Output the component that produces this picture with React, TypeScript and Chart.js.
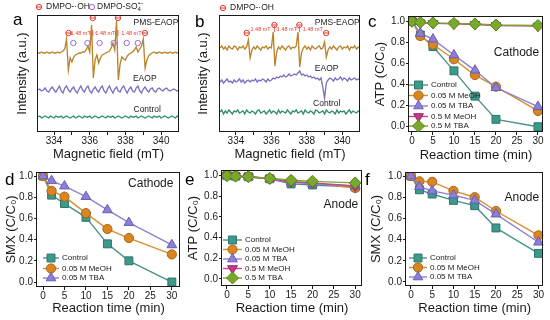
import React, { useEffect, useRef } from 'react';
import { Chart, registerables } from 'chart.js';
import { drawPoint } from 'chart.js/helpers';

Chart.register(...registerables);

const FONT = '"Liberation Sans", Arial, Helvetica, sans-serif';
const INK = '#1a1a1a';
const RED = '#e5392f';
const PURPLE = '#9b6fd6';

// ---------------- EPR spectra (a, b) ----------------
const fieldStart = 333.1;
const fieldStep = 0.1;
const fieldRange = [333.1, 341.0];
const fieldTicks = [334, 335, 336, 337, 338, 339, 340];

const aPms = [
  79, 79, 80, 79, 79, 80, 79, 79, 80, 79,
  79, 80, 79, 80, 81, 83, 93, 62, 74, 70,
  75, 77, 78, 79, 79, 80, 80, 82, 86, 80,
  107, 54, 72, 77, 69, 74, 77, 78, 79, 80,
  81, 84, 89, 82, 111, 52, 68, 75, 73, 72,
  76, 78, 79, 80, 82, 85, 80, 83, 86, 93,
  64, 72, 76, 78, 79, 80, 79, 79, 80, 79,
  79, 80, 79, 79, 80, 79, 79, 80, 79, 79,
];
const aEaop = [
  42, 43, 41, 42, 44, 41, 40, 43, 45, 42,
  40, 43, 46, 41, 39, 44, 46, 42, 40, 43,
  45, 41, 39, 43, 46, 42, 40, 44, 46, 41,
  39, 43, 45, 42, 40, 44, 46, 41, 39, 43,
  46, 42, 39, 43, 45, 41, 40, 44, 46, 42,
  39, 43, 45, 41, 40, 44, 46, 41, 39, 43,
  45, 42, 40, 43, 44, 41, 40, 43, 44, 42,
  41, 43, 44, 42, 41, 42, 43, 42, 41, 42,
];
const aCtrl = [
  15, 16, 14, 15, 16, 15, 14, 16, 15, 14,
  16, 15, 15, 16, 14, 15, 16, 15, 14, 15,
  16, 14, 15, 16, 15, 14, 16, 15, 15, 16,
  14, 15, 16, 15, 14, 15, 16, 15, 14, 16,
  15, 15, 16, 14, 15, 16, 15, 14, 15, 16,
  15, 14, 16, 15, 15, 16, 14, 15, 16, 15,
  14, 15, 16, 15, 14, 16, 15, 15, 16, 14,
  15, 16, 15, 14, 15, 16, 15, 14, 16, 15,
];
const bPms = [
  84, 86, 83, 85, 82, 86, 84, 83, 86, 85,
  82, 85, 84, 86, 83, 85, 92, 74, 82, 85,
  83, 86, 84, 82, 85, 84, 86, 83, 85, 84,
  100, 66, 80, 85, 83, 86, 84, 82, 85, 86,
  83, 85, 84, 86, 100, 65, 79, 84, 86, 83,
  85, 82, 86, 84, 83, 85, 86, 83, 84, 90,
  75, 82, 85, 83, 86, 84, 82, 85, 86, 83,
  85, 84, 86, 82, 85, 84, 86, 83, 85, 84,
];
const bEaop = [
  50, 52, 49, 51, 53, 50, 51, 49, 52, 50,
  51, 53, 50, 52, 49, 51, 52, 50, 52, 51,
  53, 50, 52, 51, 53, 52, 50, 53, 51, 52,
  54, 53, 55, 54, 56, 55, 57, 55, 56, 58,
  56, 57, 58, 57, 59, 61, 57, 58, 56, 57,
  55, 56, 54, 55, 53, 54, 52, 54, 45, 34,
  49, 52, 54, 53, 51, 54, 52, 53, 55, 52,
  54, 53, 51, 54, 52, 53, 54, 52, 53, 52,
];
const bCtrl = [
  20, 22, 18, 21, 19, 22, 20, 18, 21, 20,
  22, 19, 20, 21, 18, 22, 20, 19, 21, 20,
  18, 21, 22, 19, 20, 21, 18, 20, 22, 19,
  21, 20, 18, 22, 19, 21, 20, 19, 22, 20,
  18, 21, 20, 22, 19, 20, 21, 18, 22, 20,
  19, 21, 20, 18, 22, 21, 19, 20, 21, 18,
  22, 20, 19, 21, 20, 18, 22, 19, 21, 20,
  21, 18, 20, 22, 19, 21, 20, 19, 21, 20,
];
const aOhPeaks = [334.81, 336.17, 337.58, 339.09];
const aOhHeights = [99, 114, 114, 99];
const aSo4Peaks = [335.08, 335.87, 336.55, 337.34, 338.07, 338.69];
const aSo4Heights = [89, 89, 89, 89, 89, 89];
const bOhPeaks = [334.61, 336.17, 337.58, 339.09];
const bOhHeights = [99, 107, 107, 99];
const splittingText = '1.48 mT';
const traceNames = ['PMS-EAOP', 'EAOP', 'Control'];

// ---------------- Kinetics (c–f) ----------------
const timeMin = [0, 2, 5, 10, 15, 20, 30];
const timeTicks = [0, 5, 10, 15, 20, 25, 30];
const ratioTicks = [0, 0.2, 0.4, 0.6, 0.8, 1.0];
const seriesLabels = ['Control', '0.05 M MeOH', '0.05 M TBA', '0.5 M MeOH', '0.5 M TBA'];

const atpCathodeControl = [1.0, 0.87, 0.76, 0.53, 0.29, 0.07, 0.0];
const atpCathodeMeOH005 = [1.0, 0.86, 0.78, 0.64, 0.49, 0.38, 0.15];
const atpCathodeTBA005 = [1.0, 0.885, 0.83, 0.68, 0.535, 0.37, 0.19];
const atpCathodeMeOH05 = [1.0, 0.985, 0.98, 0.975, 0.97, 0.96, 0.955];
const atpCathodeTBA05 = [1.0, 0.99, 0.985, 0.98, 0.975, 0.965, 0.96];

const smxCathodeControl = [1.0, 0.82, 0.74, 0.61, 0.36, 0.2, 0.0];
const smxCathodeMeOH005 = [1.0, 0.86, 0.805, 0.65, 0.5, 0.415, 0.26];
const smxCathodeTBA005 = [1.0, 0.955, 0.905, 0.805, 0.68, 0.56, 0.35];

const atpAnodeControl = [1.0, 0.995, 0.99, 0.97, 0.92, 0.91, 0.89];
const atpAnodeMeOH005 = [1.0, 0.995, 0.99, 0.97, 0.945, 0.93, 0.88];
const atpAnodeTBA005 = [1.0, 0.995, 0.99, 0.97, 0.935, 0.92, 0.9];
const atpAnodeMeOH05 = [1.0, 0.995, 0.99, 0.97, 0.94, 0.93, 0.9];
const atpAnodeTBA05 = [1.0, 0.995, 0.99, 0.975, 0.955, 0.945, 0.93];

const smxAnodeControl = [1.0, 0.87, 0.83, 0.77, 0.72, 0.51, 0.27];
const smxAnodeMeOH005 = [1.0, 0.95, 0.945, 0.86, 0.8, 0.67, 0.44];
const smxAnodeTBA005 = [1.0, 0.9, 0.86, 0.82, 0.77, 0.64, 0.375];

const seriesStyles = [
  { line: '#4a928a', fill: '#3b9a8b', edge: '#2d7468', pointStyle: 'rect', radius: 5.6, rotation: 0 },
  { line: '#d98e2e', fill: '#d98520', edge: '#a8651a', pointStyle: 'circle', radius: 4.6, rotation: 0 },
  { line: '#8c80d0', fill: '#8b7fd6', edge: '#6a5db5', pointStyle: 'triangle', radius: 5.6, rotation: 0 },
  { line: '#c4468c', fill: '#c8388a', edge: '#962866', pointStyle: 'triangle', radius: 5.6, rotation: 180 },
  { line: '#7ca52c', fill: '#7aa82a', edge: '#5b8220', pointStyle: 'rectRot', radius: 6, rotation: 0 },
];
const traceColors = ['#b8852a', '#7b6fc0', '#2f8c70'];

// ---------------- helpers ----------------
type Box = { l: number; t: number; r: number; b: number };
const TITLE_SIZE = 13;
const TITLE_LH = TITLE_SIZE * 1.2;
const TICK_SIZE = 10;

function frame(box: Box, yTitleX: number, xTitleY: number) {
  const left = yTitleX - TITLE_LH / 2;
  const bottom = xTitleY + TITLE_LH / 2;
  return {
    padding: { left, top: box.t, right: 550 - box.r, bottom: 320 - bottom },
    yW: box.l - left,
    xH: bottom - box.b,
  };
}

function drawText(ctx: CanvasRenderingContext2D, s: string, x: number, y: number, size: number,
  color = INK, align: CanvasTextAlign = 'left', baseline: CanvasTextBaseline = 'middle') {
  ctx.font = `${size}px ${FONT}`;
  ctx.fillStyle = color;
  ctx.textAlign = align;
  ctx.textBaseline = baseline;
  ctx.fillText(s, x, y);
}

function strokeFrame(chart: any) {
  const { ctx, chartArea: a } = chart;
  ctx.save();
  ctx.strokeStyle = INK;
  ctx.lineWidth = 1;
  const l = Math.round(a.left) - 0.5;
  const t = Math.round(a.top) + 0.5;
  const r = Math.round(a.right) - 0.5;
  const b = Math.round(a.bottom) - 0.5;
  ctx.strokeRect(l, t, r - l, b - t);
  ctx.restore();
}

function axisCommon(title: string) {
  return {
    border: { display: false },
    grid: { drawOnChartArea: false, drawTicks: true, tickLength: 3, color: INK },
    title: { display: true, text: title, color: INK, padding: 0, font: { family: FONT, size: TITLE_SIZE } },
  };
}

// ---------------- EPR panel config ----------------
function eprConfig(o: {
  box: Box; yTitleX: number; xTitleY: number;
  traces: number[][]; ohPeaks: number[]; ohHeights: number[];
  so4Peaks?: number[]; so4Heights?: number[];
  splitY: number; labelPos: [number, number][];
  letter: string; letterAt: [number, number]; legendAt: [number, number];
}) {
  const f = frame(o.box, o.yTitleX, o.xTitleY);
  const toXY = (arr: number[]) => arr.map((v, i) => ({ x: fieldStart + i * fieldStep, y: v }));
  const datasets: any[] = [
    {
      label: 'DMPO-·OH', data: o.ohPeaks.map((x, i) => ({ x, y: o.ohHeights[i] })), showLine: false,
      pointStyle: 'circle', pointRadius: 2.7, pointBorderColor: RED, pointBackgroundColor: 'rgba(0,0,0,0)', pointBorderWidth: 1, order: 0,
    },
    {
      label: 'DMPO-·OH bar', data: o.ohPeaks.map((x, i) => ({ x, y: o.ohHeights[i] })), showLine: false,
      pointStyle: 'line', pointRadius: 2.7, pointBorderColor: RED, pointBorderWidth: 1, order: 0,
    },
  ];
  if (o.so4Peaks && o.so4Heights) {
    datasets.push({
      label: 'DMPO-SO4', data: o.so4Peaks.map((x, i) => ({ x, y: o.so4Heights![i] })), showLine: false,
      pointStyle: 'circle', pointRadius: 2.7, pointBorderColor: PURPLE, pointBackgroundColor: 'rgba(0,0,0,0)', pointBorderWidth: 1, order: 0,
    });
  }
  o.traces.forEach((tr, i) => {
    datasets.push({
      label: traceNames[i], data: toXY(tr), borderColor: traceColors[i], borderWidth: 1.35,
      pointRadius: 0, tension: 0, order: 1 + i,
    });
  });

  const overlay = {
    id: 'eprOverlay',
    afterDraw(chart: any) {
      strokeFrame(chart);
      const ctx: CanvasRenderingContext2D = chart.ctx;
      const xs = chart.scales.x, ys = chart.scales.y;
      ctx.save();
      drawText(ctx, o.letter, o.letterAt[0], o.letterAt[1], 17, '#000', 'left', 'alphabetic');
      const [lx, ly] = o.legendAt;
      ctx.strokeStyle = RED; ctx.fillStyle = 'rgba(0,0,0,0)'; ctx.lineWidth = 1;
      drawPoint(ctx, { pointStyle: 'circle', radius: 2.7, borderWidth: 1, rotation: 0 } as any, lx, ly);
      drawPoint(ctx, { pointStyle: 'line', radius: 2.7, borderWidth: 1, rotation: 0 } as any, lx, ly);
      drawText(ctx, 'DMPO-·OH', lx + 7, ly, 8.5);
      if (o.so4Peaks) {
        const px = lx + 53;
        ctx.strokeStyle = PURPLE; ctx.fillStyle = 'rgba(0,0,0,0)';
        drawPoint(ctx, { pointStyle: 'circle', radius: 2.7, borderWidth: 1, rotation: 0 } as any, px, ly);
        drawText(ctx, 'DMPO-SO', px + 5, ly, 8.5);
        ctx.font = `8.5px ${FONT}`;
        const w = ctx.measureText('DMPO-SO').width;
        drawText(ctx, '4', px + 5 + w, ly + 2.5, 6);
        drawText(ctx, '•−', px + 5 + w + 0.5, ly - 3.5, 6);
      }
      o.labelPos.forEach(([x, y], i) => {
        drawText(ctx, traceNames[i], xs.getPixelForValue(x), ys.getPixelForValue(y), 8.5);
      });
      const yy = ys.getPixelForValue(o.splitY);
      ctx.strokeStyle = RED; ctx.lineWidth = 0.8;
      for (let i = 0; i < o.ohPeaks.length - 1; i++) {
        const x0 = xs.getPixelForValue(o.ohPeaks[i]);
        const x1 = xs.getPixelForValue(o.ohPeaks[i + 1]);
        const mid = (x0 + x1) / 2;
        ctx.font = `5.5px ${FONT}`;
        const w = ctx.measureText(splittingText).width;
        drawText(ctx, splittingText, mid, yy, 5.5, RED, 'center');
        ctx.beginPath();
        ctx.moveTo(x0 + 3, yy); ctx.lineTo(mid - w / 2 - 0.5, yy);
        ctx.moveTo(mid + w / 2 + 0.5, yy); ctx.lineTo(x1 - 3, yy);
        ctx.stroke();
      }
      for (let i = 1; i < o.ohPeaks.length - 1; i++) {
        const x = xs.getPixelForValue(o.ohPeaks[i]);
        ctx.beginPath(); ctx.moveTo(x, yy - 3); ctx.lineTo(x, yy + 3); ctx.stroke();
      }
      ctx.restore();
    },
  };

  return {
    type: 'line',
    data: { datasets },
    plugins: [overlay],
    options: {
      animation: false, responsive: false, events: [],
      layout: { padding: f.padding },
      plugins: { legend: { display: false }, tooltip: { enabled: false } },
      scales: {
        x: {
          type: 'linear', min: fieldRange[0], max: fieldRange[1],
          afterBuildTicks: (s: any) => { s.ticks = fieldTicks.map((v) => ({ value: v })); },
          afterFit: (s: any) => { s.height = f.xH; },
          ticks: {
            autoSkip: false, maxRotation: 0, minRotation: 0, padding: 0, color: INK,
            font: { family: FONT, size: TICK_SIZE },
            callback: (v: any) => (Number(v) % 2 === 0 ? String(v) : ''),
          },
          ...axisCommon('Magnetic field (mT)'),
        },
        y: {
          type: 'linear', min: 0, max: o.box.b - o.box.t,
          afterFit: (s: any) => { s.width = f.yW; },
          ticks: { display: false },
          ...axisCommon('Intensity (a.u.)'),
          grid: { drawOnChartArea: false, drawTicks: false },
        },
      },
    },
  };
}

// ---------------- kinetics panel config ----------------
function kineticsConfig(o: {
  box: Box; yTitleX: number; xTitleY: number; xRange: [number, number]; yRange: [number, number];
  yTitle: string; series: number[][]; letter: string; letterAt: [number, number];
  tag: string; tagAt: [number, number]; legendLine: [number, number]; legendTextX: number; legendYs: number[];
}) {
  const f = frame(o.box, o.yTitleX, o.xTitleY);
  const n = o.series.length;
  const datasets = o.series.map((vals, i) => {
    const st = seriesStyles[i];
    return {
      label: seriesLabels[i],
      data: timeMin.map((t, k) => ({ x: t, y: vals[k] })),
      borderColor: st.line, backgroundColor: st.fill, borderWidth: 1.4,
      pointStyle: st.pointStyle, pointRadius: st.radius, pointRotation: st.rotation,
      pointBackgroundColor: st.fill, pointBorderColor: st.edge, pointBorderWidth: 1,
      tension: 0, order: n - i,
    };
  });
  const overlay = {
    id: 'kinOverlay',
    afterDraw(chart: any) {
      strokeFrame(chart);
      const ctx: CanvasRenderingContext2D = chart.ctx;
      const xs = chart.scales.x, ys = chart.scales.y;
      ctx.save();
      drawText(ctx, o.letter, o.letterAt[0], o.letterAt[1], 17, '#000', 'left', 'alphabetic');
      drawText(ctx, o.tag, xs.getPixelForValue(o.tagAt[0]), ys.getPixelForValue(o.tagAt[1]), 12);
      o.legendYs.forEach((y, i) => {
        const st = seriesStyles[i];
        ctx.strokeStyle = st.line; ctx.lineWidth = 1.4;
        ctx.beginPath(); ctx.moveTo(o.legendLine[0], y); ctx.lineTo(o.legendLine[1], y); ctx.stroke();
        ctx.fillStyle = st.fill; ctx.strokeStyle = st.edge; ctx.lineWidth = 1;
        drawPoint(ctx, { pointStyle: st.pointStyle, radius: st.radius, rotation: st.rotation, borderWidth: 1 } as any,
          (o.legendLine[0] + o.legendLine[1]) / 2, y);
        drawText(ctx, seriesLabels[i], o.legendTextX, y, 8);
      });
      ctx.restore();
    },
  };
  return {
    type: 'line',
    data: { datasets },
    plugins: [overlay],
    options: {
      animation: false, responsive: false, events: [],
      layout: { padding: f.padding },
      plugins: { legend: { display: false }, tooltip: { enabled: false } },
      scales: {
        x: {
          type: 'linear', min: o.xRange[0], max: o.xRange[1],
          afterBuildTicks: (s: any) => { s.ticks = timeTicks.map((v) => ({ value: v })); },
          afterFit: (s: any) => { s.height = f.xH; },
          ticks: { autoSkip: false, maxRotation: 0, minRotation: 0, padding: 0, color: INK, font: { family: FONT, size: TICK_SIZE } },
          ...axisCommon('Reaction time (min)'),
        },
        y: {
          type: 'linear', min: o.yRange[0], max: o.yRange[1],
          afterBuildTicks: (s: any) => { s.ticks = ratioTicks.map((v) => ({ value: v })); },
          afterFit: (s: any) => { s.width = f.yW; },
          ticks: { padding: 1, color: INK, font: { family: FONT, size: TICK_SIZE }, callback: (v: any) => Number(v).toFixed(1) },
          ...axisCommon(o.yTitle),
        },
      },
    },
  };
}

function Panel({ make }: { make: () => any }) {
  const ref = useRef<HTMLCanvasElement>(null);
  useEffect(() => {
    const chart = new Chart(ref.current as HTMLCanvasElement, make());
    return () => chart.destroy();
  }, []);
  return (
    <canvas ref={ref} width={550} height={320}
      style={{ position: 'absolute', left: 0, top: 0, width: 550, height: 320 }} />
  );
}

const panels: (() => any)[] = [
  () => eprConfig({
    box: { l: 38, t: 15, r: 179, b: 132 }, yTitleX: 22, xTitleY: 154,
    traces: [aPms, aEaop, aCtrl], ohPeaks: aOhPeaks, ohHeights: aOhHeights,
    so4Peaks: aSo4Peaks, so4Heights: aSo4Heights, splitY: 99,
    labelPos: [[338.45, 109], [338.42, 53], [338.45, 22]],
    letter: 'a', letterAt: [13, 25], legendAt: [39, 7],
  }),
  () => eprConfig({
    box: { l: 220, t: 15, r: 360, b: 132 }, yTitleX: 203, xTitleY: 154,
    traces: [bPms, bEaop, bCtrl], ohPeaks: bOhPeaks, ohHeights: bOhHeights, splitY: 103,
    labelPos: [[338.45, 109], [338.45, 63], [338.35, 28]],
    letter: 'b', letterAt: [195, 27], legendAt: [223, 8],
  }),
  () => kineticsConfig({
    box: { l: 409, t: 16, r: 546, b: 132 }, yTitleX: 380, xTitleY: 155,
    xRange: [-0.7, 31.2], yRange: [-0.05, 1.05], yTitle: 'ATP (C/C₀)',
    series: [atpCathodeControl, atpCathodeMeOH005, atpCathodeTBA005, atpCathodeMeOH05, atpCathodeTBA05],
    letter: 'c', letterAt: [368, 27], tag: 'Cathode', tagAt: [19.5, 0.7],
    legendLine: [409, 428], legendTextX: 431, legendYs: [85, 95.5, 106, 116.5, 126],
  }),
  () => kineticsConfig({
    box: { l: 37, t: 172, r: 180, b: 287 }, yTitleX: 11, xTitleY: 308,
    xRange: [-1.4, 31.9], yRange: [-0.047, 1.038], yTitle: 'SMX (C/C₀)',
    series: [smxCathodeControl, smxCathodeMeOH005, smxCathodeTBA005],
    letter: 'd', letterAt: [5, 185], tag: 'Cathode', tagAt: [19.8, 0.925],
    legendLine: [43, 59], legendTextX: 62, legendYs: [258, 268.5, 278],
  }),
  () => kineticsConfig({
    box: { l: 222, t: 170, r: 362, b: 286 }, yTitleX: 193, xTitleY: 308,
    xRange: [-1.17, 31.6], yRange: [-0.07, 1.055], yTitle: 'ATP (C/C₀)',
    series: [atpAnodeControl, atpAnodeMeOH005, atpAnodeTBA005, atpAnodeMeOH05, atpAnodeTBA05],
    letter: 'e', letterAt: [185, 185], tag: 'Anode', tagAt: [22.6, 0.72],
    legendLine: [223, 242], legendTextX: 245, legendYs: [240, 249.5, 259, 268.5, 278],
  }),
  () => kineticsConfig({
    box: { l: 406, t: 172, r: 545, b: 286 }, yTitleX: 376, xTitleY: 308,
    xRange: [-1.16, 31.16], yRange: [-0.038, 1.038], yTitle: 'SMX (C/C₀)',
    series: [smxAnodeControl, smxAnodeMeOH005, smxAnodeTBA005],
    letter: 'f', letterAt: [365, 185], tag: 'Anode', tagAt: [22, 0.8],
    legendLine: [409, 427], legendTextX: 430, legendYs: [258, 267.5, 277],
  }),
];

export default function App() {
  return (
    <div style={{ position: 'absolute', left: 0, top: 0, width: 550, height: 320, background: '#fff', overflow: 'hidden' }}>
      {panels.map((make, i) => <Panel key={i} make={make} />)}
    </div>
  );
}
